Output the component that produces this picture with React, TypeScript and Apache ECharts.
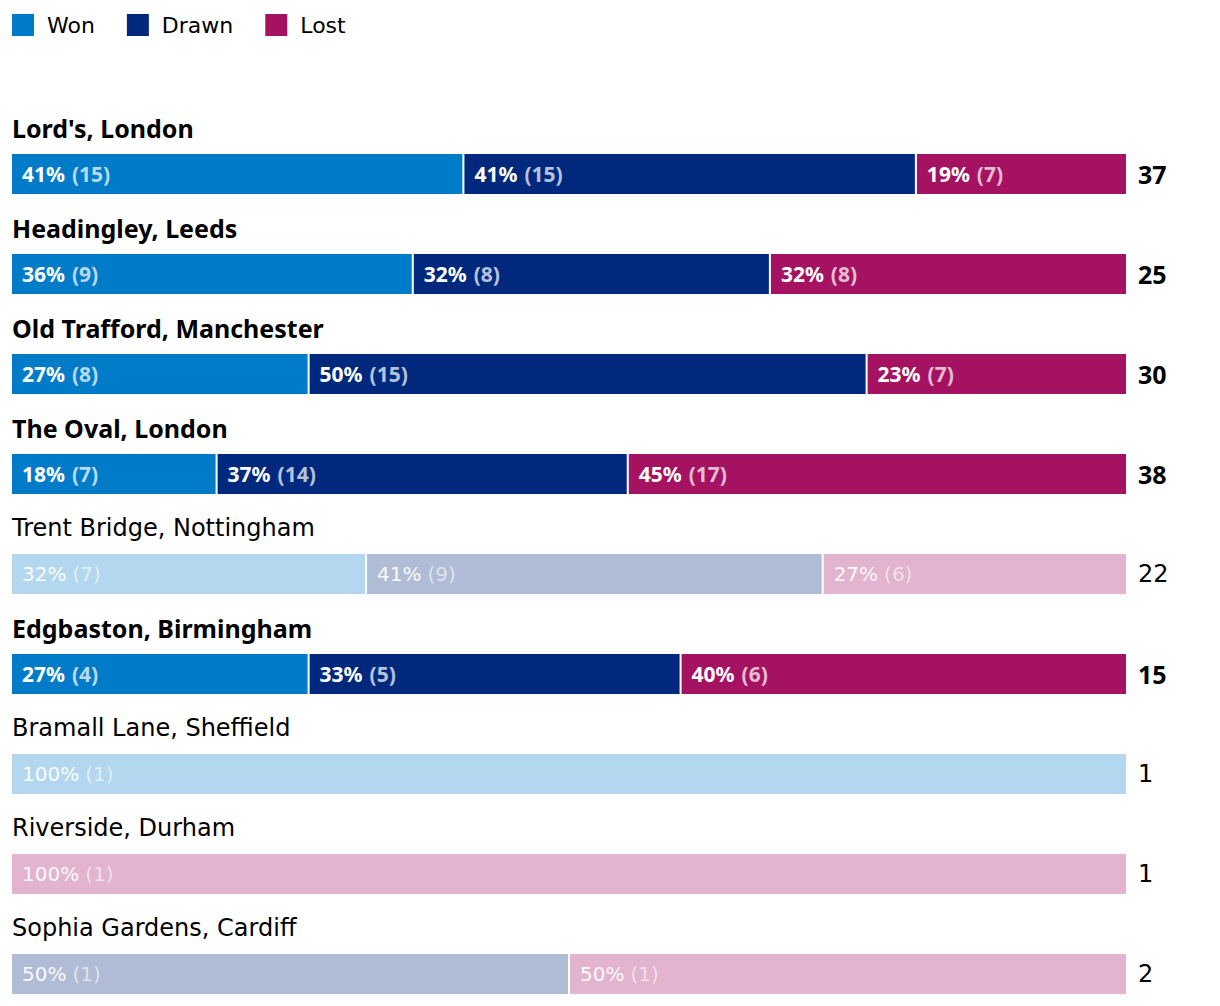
import React, { useEffect, useRef } from "react";
import * as echarts from "echarts";

const venues = [
  "Lord's, London",
  "Headingley, Leeds",
  "Old Trafford, Manchester",
  "The Oval, London",
  "Trent Bridge, Nottingham",
  "Edgbaston, Birmingham",
  "Bramall Lane, Sheffield",
  "Riverside, Durham",
  "Sophia Gardens, Cardiff",
];
const won = [15, 9, 8, 7, 7, 4, 1, 0, 0];
const drawn = [15, 8, 15, 14, 9, 5, 0, 0, 1];
const lost = [7, 8, 7, 17, 6, 6, 0, 1, 1];
const faded = [false, false, false, false, true, false, true, true, true];

const seriesNames = ["Won", "Drawn", "Lost"];
const strongColors = ["#007bc8", "#00297e", "#a51261"];
const fadedColors = ["#b3d7ee", "#b0bcd6", "#e2b4d0"];

const BOLD_FONT = "'Noto Sans', sans-serif";
const NORMAL_FONT = "'DejaVu Sans', sans-serif";

export default function App() {
  const ref = useRef<HTMLDivElement>(null);
  useEffect(() => {
    if (!ref.current) return;
    const chart = echarts.init(ref.current, null, { renderer: "svg" });
    const totals = venues.map((_, i) => won[i] + drawn[i] + lost[i]);
    const counts = [won, drawn, lost];

    const series = counts.map((arr, s) => ({
      name: seriesNames[s],
      type: "bar",
      stack: "total",
      barWidth: 42,
      xAxisIndex: 0,
      yAxisIndex: 0,
      itemStyle: { color: strongColors[s], borderColor: "#ffffff", borderWidth: 1 },
      label: {
        show: true,
        position: "insideLeft",
        distance: 11,
        formatter: (p: any) => {
          const i = p.dataIndex;
          const c = arr[i];
          if (!c) return "";
          const pct = Math.round((c / totals[i]) * 100);
          return faded[i]
            ? `{pn|${pct}%}{cn|(${c})}`
            : `{pb|${pct}%}{cb|(${c})}`;
        },
        rich: {
          pb: { color: "#ffffff", fontSize: 21, fontWeight: "bold", fontFamily: BOLD_FONT },
          cb: { color: "rgba(255,255,255,0.72)", fontSize: 21, fontWeight: "bold", fontFamily: BOLD_FONT, padding: [0, 0, 0, 7] },
          pn: { color: "rgba(255,255,255,0.95)", fontSize: 20, fontWeight: "normal", fontFamily: NORMAL_FONT },
          cn: { color: "rgba(255,255,255,0.6)", fontSize: 20, fontWeight: "normal", fontFamily: NORMAL_FONT, padding: [0, 0, 0, 6] },
        },
      },
      data: arr.map((c, i) =>
        c
          ? {
              value: (c / totals[i]) * 100,
              itemStyle: { color: faded[i] ? fadedColors[s] : strongColors[s] },
            }
          : "-"
      ),
    }));

    chart.setOption({
      animation: false,
      legend: {
        left: 5,
        top: 7,
        itemWidth: 24,
        itemHeight: 24,
        itemGap: 30,
        selectedMode: false,
        icon: "rect",
        data: seriesNames,
        textStyle: { fontSize: 22, color: "#000", fontFamily: NORMAL_FONT, padding: [0, 0, 0, 7] },
      },
      grid: { left: 11, right: 93, top: 124, bottom: 0, containLabel: false },
      xAxis: { type: "value", min: 0, max: 100, show: false },
      yAxis: [
        {
          type: "category",
          inverse: true,
          data: venues,
          position: "left",
          axisLine: { show: false },
          axisTick: { show: false },
          splitLine: { show: false },
          axisLabel: {
            inside: true,
            interval: 0,
            margin: 1,
            align: "left",
            verticalAlign: "middle",
            padding: [0, 0, 92, 0],
            formatter: (v: string, i: number) =>
              faded[i] ? `{n|${v}}` : `{b|${v}}`,
            rich: {
              b: { fontSize: 25, fontWeight: "bold", color: "#000", fontFamily: BOLD_FONT },
              n: { fontSize: 24, fontWeight: "normal", color: "#000", fontFamily: NORMAL_FONT },
            },
          },
        },
        {
          type: "category",
          inverse: true,
          data: venues,
          position: "right",
          axisLine: { show: false },
          axisTick: { show: false },
          splitLine: { show: false },
          axisLabel: {
            interval: 0,
            margin: 11,
            align: "left",
            formatter: (_v: string, i: number) =>
              faded[i] ? `{n|${totals[i]}}` : `{b|${totals[i]}}`,
            rich: {
              b: { fontSize: 25, fontWeight: "bold", color: "#000", fontFamily: BOLD_FONT },
              n: { fontSize: 24, fontWeight: "normal", color: "#000", fontFamily: NORMAL_FONT },
            },
          },
        },
      ],
      series,
    });
    return () => chart.dispose();
  }, []);
  return (
    <div
      ref={ref}
      style={{ position: "fixed", left: 0, top: 0, width: 1220, height: 1024, background: "#fff" }}
    />
  );
}
